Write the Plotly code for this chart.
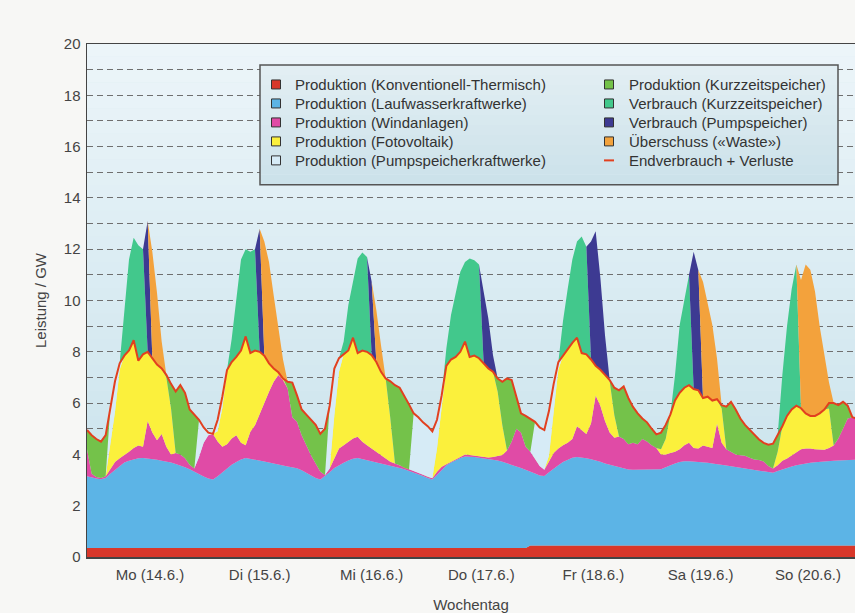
import plotly.graph_objects as go

# ---------------- data (hourly, Monday 14.6. 00:00 = hour 0) ----------------
hours = list(range(166))

day_labels = ["Mo (14.6.)", "Di (15.6.)", "Mi (16.6.)", "Do (17.6.)",
              "Fr (18.6.)", "Sa (19.6.)", "So (20.6.)"]
day_label_hours = [13.5, 37, 61, 84.5, 108.5, 131.5, 154.5]

demand = [4.95, 4.75, 4.6, 4.5, 4.75, 5.85, 6.85, 7.55, 7.85, 8.05, 8.45, 7.65, 7.9, 8.0, 7.75, 7.5,
          7.35, 7.1, 6.75, 6.45, 6.7, 6.4, 5.75, 5.55, 5.35, 5.05, 4.85, 4.8, 5.35, 6.25, 7.29, 7.6,
          7.8, 8.05, 8.6, 7.95, 8.05, 8.0, 7.85, 7.55, 7.35, 7.2, 6.96, 6.83, 6.8, 6.3, 5.75, 5.55,
          5.35, 5.15, 4.8, 5.0, 5.9, 7.35, 7.75, 7.9, 8.05, 8.55, 7.95, 8.05, 8.0, 7.87, 7.6, 7.22,
          6.96, 6.85, 6.7, 6.6, 6.3, 5.95, 5.6, 5.45, 5.25, 5.1, 4.9, 5.35, 6.3, 7.45, 7.7, 7.8,
          8.0, 8.4, 7.8, 7.85, 7.75, 7.55, 7.35, 7.22, 6.96, 6.83, 6.96, 6.9, 6.2, 5.6, 5.5, 5.4,
          5.27, 5.05, 4.95, 5.7, 6.75, 7.6, 7.85, 8.1, 8.35, 8.55, 7.95, 7.9, 7.7, 7.45, 7.3, 7.1,
          6.9, 6.6, 6.5, 6.65, 6.2, 5.85, 5.6, 5.4, 5.25, 5.0, 4.78, 4.85, 5.15, 5.55, 6.1, 6.4,
          6.6, 6.7, 6.55, 6.5, 6.2, 6.25, 6.1, 6.15, 5.92, 5.86, 6.05, 5.75, 5.4, 5.15, 4.95, 4.78,
          4.58, 4.45, 4.38, 4.42, 4.75, 5.1, 5.5, 5.75, 5.9, 5.8, 5.6, 5.5, 5.5, 5.6, 5.75, 6.0,
          6.0, 5.92, 6.05, 5.9, 5.45, 5.4]

thermal = [0.35, 0.35, 0.35, 0.35, 0.35, 0.35, 0.35, 0.35, 0.35, 0.35, 0.35, 0.35, 0.35, 0.35, 0.35, 0.35,
           0.35, 0.35, 0.35, 0.35, 0.35, 0.35, 0.35, 0.35, 0.35, 0.35, 0.35, 0.35, 0.35, 0.35, 0.35, 0.35,
           0.35, 0.35, 0.35, 0.35, 0.35, 0.35, 0.35, 0.35, 0.35, 0.35, 0.35, 0.35, 0.35, 0.35, 0.35, 0.35,
           0.35, 0.35, 0.35, 0.35, 0.35, 0.35, 0.35, 0.35, 0.35, 0.35, 0.35, 0.35, 0.35, 0.35, 0.35, 0.35,
           0.35, 0.35, 0.35, 0.35, 0.35, 0.35, 0.35, 0.35, 0.35, 0.35, 0.35, 0.35, 0.35, 0.35, 0.35, 0.35,
           0.35, 0.35, 0.35, 0.35, 0.35, 0.35, 0.35, 0.35, 0.35, 0.35, 0.35, 0.35, 0.35, 0.35, 0.35, 0.45,
           0.45, 0.45, 0.45, 0.45, 0.45, 0.45, 0.45, 0.45, 0.45, 0.45, 0.45, 0.45, 0.45, 0.45, 0.45, 0.45,
           0.45, 0.45, 0.45, 0.45, 0.45, 0.45, 0.45, 0.45, 0.45, 0.45, 0.45, 0.45, 0.45, 0.45, 0.45, 0.45,
           0.45, 0.45, 0.45, 0.45, 0.45, 0.45, 0.45, 0.45, 0.45, 0.45, 0.45, 0.45, 0.45, 0.45, 0.45, 0.45,
           0.45, 0.45, 0.45, 0.45, 0.45, 0.45, 0.45, 0.45, 0.45, 0.45, 0.45, 0.45, 0.45, 0.45, 0.45, 0.45,
           0.45, 0.45, 0.45, 0.45, 0.45, 0.45]

run_of_river = [2.80, 2.75, 2.71, 2.68, 2.73, 2.90, 3.05, 3.20, 3.33, 3.40, 3.45, 3.50, 3.51, 3.49, 3.47, 3.44,
                3.40, 3.37, 3.33, 3.28, 3.23, 3.15, 3.07, 2.97, 2.87, 2.79, 2.71, 2.67, 2.80, 2.95, 3.12, 3.25,
                3.35, 3.45, 3.51, 3.48, 3.44, 3.40, 3.37, 3.33, 3.30, 3.26, 3.22, 3.18, 3.15, 3.11, 3.03, 2.93,
                2.83, 2.73, 2.67, 2.80, 2.95, 3.12, 3.23, 3.32, 3.41, 3.48, 3.51, 3.47, 3.43, 3.39, 3.34, 3.31,
                3.27, 3.22, 3.17, 3.12, 3.07, 3.01, 2.95, 2.89, 2.81, 2.73, 2.67, 2.85, 3.05, 3.23, 3.33, 3.43,
                3.51, 3.57, 3.57, 3.55, 3.52, 3.50, 3.47, 3.45, 3.41, 3.36, 3.31, 3.25, 3.18, 3.12, 3.06, 2.89,
                2.81, 2.73, 2.71, 2.85, 3.00, 3.13, 3.25, 3.35, 3.42, 3.45, 3.43, 3.40, 3.36, 3.32, 3.26, 3.20,
                3.15, 3.09, 3.03, 2.98, 2.96, 2.95, 2.95, 2.95, 2.95, 2.95, 2.95, 2.97, 3.05, 3.13, 3.20, 3.25,
                3.28, 3.28, 3.27, 3.25, 3.24, 3.22, 3.20, 3.18, 3.15, 3.12, 3.09, 3.06, 3.03, 3.00, 2.97, 2.94,
                2.91, 2.88, 2.85, 2.83, 2.90, 2.97, 3.03, 3.08, 3.13, 3.17, 3.20, 3.22, 3.24, 3.26, 3.27, 3.29,
                3.30, 3.31, 3.32, 3.33, 3.34, 3.35]

wind = [1.05, 0.15, 0.06, 0.05, 0.07, 0.17, 0.30, 0.30, 0.29, 0.35, 0.45, 0.50, 0.44, 1.46, 1.03, 0.76,
        1.05, 0.58, 0.32, 0.42, 0.42, 0.35, 0.18, 0.13, 0.68, 1.31, 1.69, 1.78, 1.35, 1.00, 0.93, 1.02,
        1.05, 0.65, 0.50, 1.05, 1.35, 1.85, 2.28, 2.76, 3.18, 3.49, 3.33, 3.04, 1.95, 1.81, 1.37, 1.08,
        0.79, 0.57, 0.30, 0.05, 0.15, 0.37, 0.65, 0.69, 0.73, 0.79, 0.83, 0.67, 0.58, 0.49, 0.41, 0.31,
        0.22, 0.14, 0.13, 0.11, 0.06, 0.06, 0.05, 0.05, 0.05, 0.05, 0.05, 0.12, 0.12, 0.04, 0.04, 0.04,
        0.06, 0.08, 0.06, 0.05, 0.06, 0.05, 0.06, 0.10, 0.19, 0.27, 0.49, 0.90, 1.47, 1.38, 0.89, 0.76,
        0.58, 0.37, 0.24, 0.45, 0.60, 0.65, 0.66, 0.65, 0.73, 1.20, 1.07, 0.95, 1.39, 2.53, 2.19, 1.65,
        1.25, 1.11, 1.22, 1.17, 0.99, 1.05, 1.00, 1.20, 1.10, 0.96, 0.85, 0.58, 0.50, 0.47, 0.45, 0.50,
        0.63, 0.72, 0.53, 0.53, 0.66, 0.63, 0.60, 1.57, 0.85, 0.63, 0.56, 0.49, 0.49, 0.50, 0.45, 0.41,
        0.42, 0.39, 0.25, 0.17, 0.23, 0.33, 0.36, 0.44, 0.52, 0.58, 0.58, 0.56, 0.51, 0.47, 0.46, 0.51,
        0.60, 0.86, 1.23, 1.62, 1.66, 1.60]

solar = [0, 0, 0, 0, 0, 0.94, 1.96, 3.45, 3.88, 3.95, 4.20, 3.30, 3.60, 2.70, 2.90, 2.95,
         2.55, 2.70, 1.80, 0, 0, 0, 0, 0, 0, 0, 0, 0, 0.40, 1.50, 2.89, 2.98,
         3.05, 3.60, 4.24, 3.07, 2.91, 2.40, 1.85, 1.11, 0.52, 0.10, 0.06, 0, 0, 0, 0, 0,
         0, 0, 0, 0, 0, 1.69, 2.99, 3.54, 3.56, 3.93, 3.26, 3.56, 3.64, 3.64, 3.50, 3.25,
         3.12, 1.69, 0, 0, 0, 0, 0, 0, 0, 0, 0, 0.91, 2.27, 3.83, 3.98, 3.98,
         4.08, 4.40, 3.82, 3.90, 3.82, 3.65, 3.47, 3.32, 2.49, 1.16, 0, 0, 0, 0, 0, 0,
         0, 0, 0, 0.20, 1.61, 3.07, 3.49, 3.65, 3.75, 3.45, 3.00, 3.10, 2.50, 1.15, 1.40, 1.80,
         2.00, 0.88, 0, 0, 0, 0, 0, 0, 0, 0, 0, 0.20, 0.60, 1.50, 2.00, 2.20,
         2.24, 2.25, 2.30, 2.27, 1.85, 1.95, 1.85, 0.95, 1.34, 0, 0, 0, 0, 0, 0, 0,
         0, 0, 0, 0, 0.52, 1.35, 1.66, 1.78, 1.80, 1.60, 1.37, 1.27, 1.30, 1.42, 1.57, 1.54,
         0, 0, 0, 0, 0, 0]

pumped_gen = [0, 0, 0, 0, 0, 1.49, 1.19, 0.25, 0, 0, 0, 0, 0, 0, 0, 0,
              0, 0, 0, 0, 0, 0, 0, 0, 1.45, 0.60, 0.10, 0, 0.45, 0.45, 0, 0,
              0, 0, 0, 0, 0, 0, 0, 0, 0, 0, 0, 0, 0, 0, 0, 0,
              0, 0, 0, 0, 2.45, 1.82, 0.53, 0, 0, 0, 0, 0, 0, 0, 0, 0,
              0, 0, 0, 0, 0, 0, 2.25, 2.16, 2.04, 1.97, 1.83, 1.12, 0.51, 0, 0, 0,
              0, 0, 0, 0, 0, 0, 0, 0, 0, 0, 0, 0, 0, 0, 0, 0,
              1.43, 1.50, 1.55, 1.75, 1.09, 0.30, 0, 0, 0, 0, 0, 0, 0, 0, 0, 0,
              0, 0, 0, 0, 0, 0, 0, 0, 0, 0, 0, 0, 0, 0, 0, 0,
              0, 0, 0, 0, 0, 0, 0, 0, 0, 0, 0, 0, 0, 0, 0, 0,
              0, 0, 0, 0, 0, 0, 0, 0, 0, 0, 0, 0, 0, 0, 0, 0,
              0, 0, 0, 0, 0, 0]

storage_gen = [0.75, 1.50, 1.48, 1.42, 1.60, 0, 0, 0, 0, 0, 0, 0, 0, 0, 0, 0,
               0, 0.10, 0.95, 2.40, 2.70, 2.55, 2.15, 2.10, 0, 0, 0, 0, 0, 0, 0, 0,
               0, 0, 0, 0, 0, 0, 0, 0, 0, 0, 0, 0.26, 1.35, 1.03, 1.00, 1.19,
               1.38, 1.50, 1.48, 1.80, 0, 0, 0, 0, 0, 0, 0, 0, 0, 0, 0, 0,
               0, 1.45, 3.05, 3.02, 2.82, 2.53, 0, 0, 0, 0, 0, 0, 0, 0, 0, 0,
               0, 0, 0, 0, 0, 0, 0, 0, 0.52, 1.69, 2.81, 2.40, 1.20, 0.75, 1.20, 1.30,
               0, 0, 0, 0, 0, 0, 0, 0, 0, 0, 0, 0, 0, 0, 0, 0,
               0.05, 1.07, 1.80, 2.05, 1.80, 1.40, 1.20, 0.80, 0.75, 0.64, 0.53, 0.65, 0.55, 0, 0, 0,
               0, 0, 0, 0, 0, 0, 0, 0, 0.13, 1.66, 1.95, 1.75, 1.43, 1.20, 1.08, 0.98,
               0.80, 0.73, 0.83, 0.97, 0.65, 0, 0, 0, 0, 0, 0, 0, 0, 0, 0, 0.21,
               1.65, 1.30, 1.05, 0.50, 0, 0]

storage_load = [0, 0, 0, 0, 0, 0, 0, 0, 1.58, 3.55, 4.00, 4.50, 4.10, 0, 0, 0,
                0, 0, 0, 0, 0, 0, 0, 0, 0, 0, 0, 0, 0, 0, 0, 0.90,
                2.30, 3.55, 3.40, 3.95, 3.95, 0, 0, 0, 0, 0, 0, 0, 0, 0, 0, 0,
                0, 0, 0, 0, 0, 0, 0, 0.50, 1.77, 2.11, 3.69, 3.82, 3.70, 0, 0, 0,
                0, 0, 0, 0, 0, 0, 0, 0, 0, 0, 0, 0, 0, 0.68, 1.73, 2.54,
                3.12, 3.10, 3.84, 3.72, 3.65, 0, 0, 0, 0, 0, 0, 0, 0, 0, 0, 0,
                0, 0, 0, 0, 0, 0, 1.35, 2.35, 3.25, 3.75, 4.55, 4.20, 0, 0, 0, 0,
                0, 0, 0, 0, 0, 0, 0, 0, 0, 0, 0, 0, 0, 0, 0.99, 2.64,
                3.48, 4.29, 0, 0, 0, 0, 0, 0, 0, 0, 0, 0, 0, 0, 0, 0,
                0, 0, 0, 0, 0, 2.00, 3.50, 4.70, 5.50, 0, 0, 0, 0, 0, 0, 0,
                0, 0, 0, 0, 0, 0]

pumped_load = [0, 0, 0, 0, 0, 0, 0, 0, 0, 0, 0, 0, 0, 5.10, 0, 0,
               0, 0, 0, 0, 0, 0, 0, 0, 0, 0, 0, 0, 0, 0, 0, 0,
               0, 0, 0, 0, 0, 4.80, 0, 0, 0, 0, 0, 0, 0, 0, 0, 0,
               0, 0, 0, 0, 0, 0, 0, 0, 0, 0, 0, 0, 0, 2.86, 0, 0,
               0, 0, 0, 0, 0, 0, 0, 0, 0, 0, 0, 0, 0, 0, 0, 0,
               0, 0, 0, 0, 0, 2.79, 1.95, 0.65, 0, 0, 0, 0, 0, 0, 0, 0,
               0, 0, 0, 0, 0, 0, 0, 0, 0, 0, 0, 0, 4.60, 5.25, 3.60, 1.55,
               0, 0, 0, 0, 0, 0, 0, 0, 0, 0, 0, 0, 0, 0, 0, 0,
               0, 0, 5.35, 4.68, 0, 0, 0, 0, 0, 0, 0, 0, 0, 0, 0, 0,
               0, 0, 0, 0, 0, 0, 0, 0, 0, 0, 0, 0, 0, 0, 0, 0,
               0, 0, 0, 0, 0, 0]

waste = [0, 0, 0, 0, 0, 0, 0, 0, 0, 0, 0, 0, 0, 0, 4.15, 2.80,
         1.05, 0, 0, 0, 0, 0, 0, 0, 0, 0, 0, 0, 0, 0, 0, 0,
         0, 0, 0, 0, 0, 0, 4.45, 3.95, 2.85, 1.84, 0.74, 0, 0, 0, 0, 0,
         0, 0, 0, 0, 0, 0, 0, 0, 0, 0, 0, 0, 0, 0, 2.02, 1.04,
         0, 0, 0, 0, 0, 0, 0, 0, 0, 0, 0, 0, 0, 0, 0, 0,
         0, 0, 0, 0, 0, 0, 0, 0, 0, 0, 0, 0, 0, 0, 0, 0,
         0, 0, 0, 0, 0, 0, 0, 0, 0, 0, 0, 0, 0, 0, 0, 0,
         0, 0, 0, 0, 0, 0, 0, 0, 0, 0, 0, 0, 0, 0, 0, 0,
         0, 0, 0, 0, 4.53, 3.57, 2.94, 1.59, 0, 0, 0, 0, 0, 0, 0, 0,
         0, 0, 0, 0, 0, 0, 0, 0, 0, 5.00, 5.80, 5.70, 4.85, 3.40, 2.20, 0.80,
         0, 0, 0, 0, 0, 0]

# ---------------- styling ----------------
FONT = "Liberation Sans, Arial, Helvetica, sans-serif"
TXT = "#333333"
AX = "#444444"
PAPER = "#f7f7f5"

layers = [
    ("Produktion (Konventionell-Thermisch)", thermal, "#d8372a"),
    ("Produktion (Laufwasserkraftwerke)", run_of_river, "#5cb4e6"),
    ("Produktion (Windanlagen)", wind, "#e04ba6"),
    ("Produktion (Fotovoltaik)", solar, "#fbf03c"),
    ("Produktion (Pumpspeicherkraftwerke)", pumped_gen, "#d6ebf6"),
    ("Produktion (Kurzzeitspeicher)", storage_gen, "#74c24a"),
    ("Verbrauch (Kurzzeitspeicher)", storage_load, "#42c88c"),
    ("Verbrauch (Pumpspeicher)", pumped_load, "#3d3a92"),
    ("Überschuss («Waste»)", waste, "#f3a23c"),
]
line_name = "Endverbrauch + Verluste"
line_color = "#e2401f"

fig = go.Figure()

for name, vals, col in layers:
    fig.add_trace(go.Scatter(
        x=hours, y=vals, name=name, stackgroup="one", mode="lines",
        line=dict(width=0, color=col), fillcolor=col, showlegend=False,
        hoverinfo="skip"))

fig.add_trace(go.Scatter(
    x=hours, y=demand, name=line_name, mode="lines",
    line=dict(color=line_color, width=2), showlegend=False, hoverinfo="skip"))

# ---------------- page geometry ----------------
W, H = 855, 613
ML, MT, MR = 87, 44, 0
PLOT_BOTTOM = 557.5
MB = H - PLOT_BOTTOM
PX0, PX1 = ML, W - MR
PY0, PY1 = MT, PLOT_BOTTOM


def px(xp):
    return (xp - PX0) / (PX1 - PX0)


def py(yp):
    return (PY1 - yp) / (PY1 - PY0)


shapes = []
annotations = []

# background gradient for the plot area
n = 40
top = (236, 245, 249)
bot = (198, 225, 235)
for i in range(n):
    t = i / (n - 1)
    c = tuple(round(top[k] + (bot[k] - top[k]) * t) for k in range(3))
    shapes.append(dict(type="rect", xref="paper", yref="paper",
                       x0=0, x1=1, y0=1 - (i + 1) / n, y1=1 - i / n,
                       line=dict(width=0), fillcolor="rgb(%d,%d,%d)" % c,
                       layer="below"))

# legend box (drawn by hand: two columns in one framed box)
box_l, box_r, box_t, box_b = 260, 838, 65, 185
lt = (226, 238, 243)
lb = (204, 226, 234)
nb = 12
for i in range(nb):
    t = i / (nb - 1)
    c = tuple(round(lt[k] + (lb[k] - lt[k]) * t) for k in range(3))
    y_top = box_t + (box_b - box_t) * i / nb
    y_bot = box_t + (box_b - box_t) * (i + 1) / nb
    shapes.append(dict(type="rect", xref="paper", yref="paper",
                       x0=px(box_l), x1=px(box_r), y0=py(y_bot), y1=py(y_top),
                       line=dict(width=0), fillcolor="rgb(%d,%d,%d)" % c,
                       layer="above"))
shapes.append(dict(type="rect", xref="paper", yref="paper",
                   x0=px(box_l), x1=px(box_r), y0=py(box_b), y1=py(box_t),
                   line=dict(color="#555555", width=1.5), fillcolor="rgba(0,0,0,0)",
                   layer="above"))

row_y = [84.5, 103.5, 122.5, 141.5, 160.5]
col_sq = [276, 609]
col_tx = [293, 627]
entries = [(i, 0, r) for r, i in enumerate(range(5))] + \
          [(i, 1, r) for r, i in enumerate(range(5, 10))]
for idx, col, r in entries:
    yc = row_y[r]
    xc = col_sq[col]
    if idx < len(layers):
        name, _, colr = layers[idx]
        shapes.append(dict(type="rect", xref="paper", yref="paper",
                           x0=px(xc - 4.5), x1=px(xc + 4.5),
                           y0=py(yc + 4.5), y1=py(yc - 4.5),
                           line=dict(color="#333333", width=1), fillcolor=colr,
                           layer="above"))
    else:
        name = line_name
        shapes.append(dict(type="line", xref="paper", yref="paper",
                           x0=px(xc - 5), x1=px(xc + 5), y0=py(yc), y1=py(yc),
                           line=dict(color=line_color, width=2), layer="above"))
    annotations.append(dict(xref="paper", yref="paper", x=px(col_tx[col]), y=py(yc),
                            xanchor="left", yanchor="middle", showarrow=False,
                            text=name, font=dict(family=FONT, size=15, color=TXT)))

fig.update_layout(
    width=W, height=H,
    margin=dict(l=ML, r=MR, t=MT, b=MB, pad=0),
    paper_bgcolor=PAPER,
    plot_bgcolor="#dcedf3",
    shapes=shapes,
    annotations=annotations,
    font=dict(family=FONT, size=15, color=TXT),
    showlegend=False,
    hovermode=False,
    xaxis=dict(
        range=[0, 164.57], tickmode="array", tickvals=day_label_hours,
        ticktext=day_labels, ticks="", showgrid=False, zeroline=False,
        showline=True, linecolor=AX, linewidth=1.5, mirror=True,
        tickfont=dict(size=15, color=AX), ticklabelstandoff=3,
        title=dict(text="Wochentag", font=dict(size=15, color=AX), standoff=20),
    ),
    yaxis=dict(
        range=[0, 20], tickmode="array", tickvals=list(range(0, 21, 2)),
        ticks="", showgrid=True, gridcolor="#6f6f6f", gridwidth=1, griddash="6px,4px",
        minor=dict(dtick=1, showgrid=True, gridcolor="#6f6f6f", gridwidth=1, griddash="6px,4px"),
        zeroline=False, showline=True, linecolor=AX, linewidth=1.5,
        tickfont=dict(size=15, color=AX), ticklabelstandoff=2,
        title=dict(text="Leistung / GW", font=dict(size=15, color=AX), standoff=13),
    ),
)

# remove the browser's default page margin so the figure fills the window
page_css = ("document.body.style.margin='0';"
            "document.body.style.padding='0';"
            "document.body.style.background='%s';" % PAPER)

fig.write_html("out.html", post_script=page_css,
               config={"displayModeBar": False, "staticPlot": True})
